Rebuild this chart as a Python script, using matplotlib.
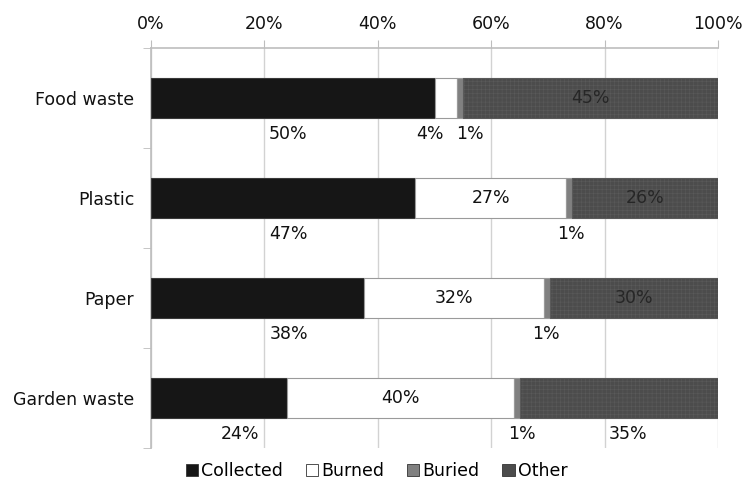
import matplotlib
matplotlib.use("Agg")
import matplotlib.pyplot as plt
import numpy as np
from matplotlib.patches import Patch

plt.rcParams['font.family'] = ['DejaVu Sans']
plt.rcParams['hatch.linewidth'] = 0.4

# Survey data: share of households disposing each waste type in each way (%)
categories = ["Food waste", "Plastic", "Paper", "Garden waste"]
methods = ["Collected", "Burned", "Buried", "Other"]
collected = [50, 47, 38, 24]
burned = [4, 27, 32, 40]
buried = [1, 1, 1, 1]
other = [45, 26, 30, 35]
xticks = [0, 20, 40, 60, 80, 100]

series = [collected, burned, buried, other]
colors = ["#161616", "#ffffff", "#808080", "#4c4c4c"]
edges = ["#3a3a3a", "#9a9a9a", "#9a9a9a", "#5a5a5a"]

# Label placement: None -> centred inside the segment, number -> x (%) below the bar
label_x = {
    "Collected": [24.2, 24.2, 24.3, 15.7],
    "Burned": [49.2, None, None, None],
    "Buried": [56.3, 74.1, 69.7, 65.4],
    "Other": [None, None, None, 84.1],
}
label_dy = 0.36

fig = plt.figure(figsize=(7.46, 4.86), dpi=100)
ax = fig.add_axes([151 / 746, 1 - 448 / 486, 567 / 746, 400 / 486])

data = np.array(series, dtype=float)
shares = data / data.sum(axis=0) * 100  # 100% stacked
y = np.arange(len(categories))
left = np.zeros(len(categories))
for name, vals, raw, col, ec in zip(methods, shares, series, colors, edges):
    hatch = "++++" if name == "Other" else None
    bars = ax.barh(y, vals, left=left, height=0.4, color=col, edgecolor=ec,
                   linewidth=0.8, hatch=hatch, zorder=3, label=name)
    for i, (l, v, r) in enumerate(zip(left, vals, raw)):
        pos = label_x[name][i]
        if pos is None:
            tc = "#262626" if name == "Other" else "#111111"
            ax.text(l + v / 2, y[i], f"{r}%", ha="center", va="center",
                    fontsize=12.5, color=tc, zorder=5)
        else:
            ax.text(pos, y[i] + label_dy, f"{r}%", ha="center", va="center",
                    fontsize=12.5, color="#111111", zorder=5)
    left += vals

ax.set_xlim(0, 100)
ax.set_ylim(len(categories) - 0.5, -0.5)
ax.xaxis.tick_top()
ax.set_xticks(xticks)
ax.set_xticklabels([f"{t}%" for t in xticks], fontsize=12.5, color="#111111")
ax.tick_params(axis="x", length=6, color="#bdbdbd", pad=5)
ax.grid(axis="x", color="#d2d2d2", linewidth=1.0, zorder=0)

ax.set_yticks(y)
ax.set_yticklabels(categories, fontsize=12.5, color="#111111")
ax.set_yticks(np.arange(-0.5, len(categories), 1.0), minor=True)
ax.tick_params(axis="y", which="major", length=0, pad=12)
ax.tick_params(axis="y", which="minor", length=6, color="#bdbdbd")

for s in ["right", "bottom"]:
    ax.spines[s].set_visible(False)
ax.spines["left"].set_color("#bdbdbd")
ax.spines["top"].set_color("#bdbdbd")
ax.spines["left"].set_linewidth(1.2)
ax.spines["top"].set_linewidth(1.2)

handles = [Patch(facecolor=c, edgecolor="#333333", linewidth=0.6, label=m)
           for m, c in zip(methods, colors)]
fig.legend(handles=handles, loc="lower center", bbox_to_anchor=(0.505, -0.02),
           ncol=4, frameon=False, fontsize=12.5, handlelength=0.7,
           handleheight=0.7, handletextpad=0.2, columnspacing=1.3)

fig.savefig("out.png", dpi=100)
